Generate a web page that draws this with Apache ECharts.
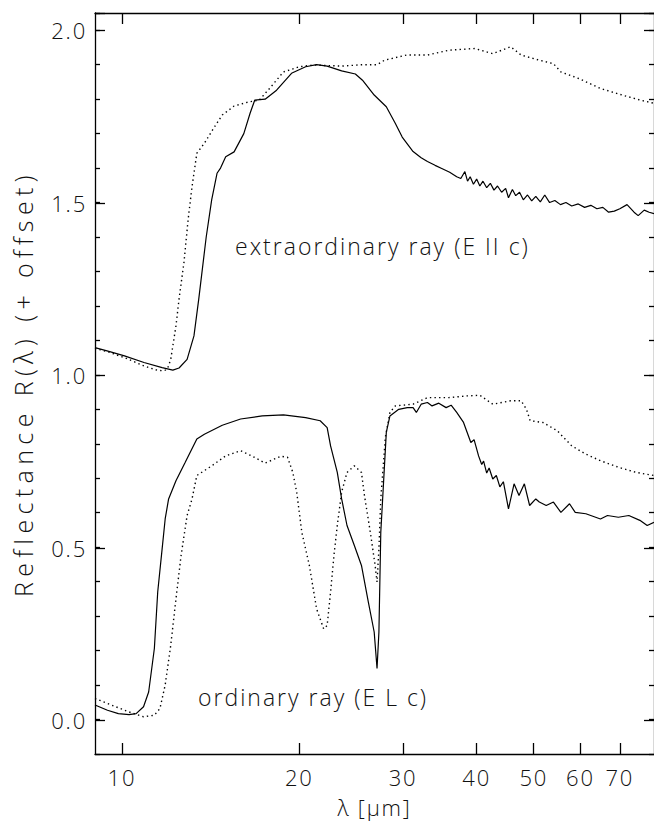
<!DOCTYPE html>
<html>
<head>
<meta charset="utf-8">
<script src="https://cdn.jsdelivr.net/npm/echarts@6/dist/echarts.min.js"></script>
<style>
  html, body { margin: 0; padding: 0; background: #fff; }
  #chart { width: 654px; height: 823px; }
  /* wide, airy lettering for the axis and annotation text */
  #chart text[style*="22px"] { letter-spacing: 1.8px; }
  #chart text[style*="23px"] { letter-spacing: 2px; }
  #chart text[style*="25px"] { letter-spacing: 5.4px; }
</style>
</head>
<body>
<div id="chart"></div>
<script>
// Wavelength ticks (µm) and reflectance ticks
const xTicks = [10, 20, 30, 40, 50, 60, 70];
const yMajorStep = 0.5;
const yMinorStep = 0.1;

// Extraordinary ray (E || c), offset by +1: measured (solid) and model (dotted)
const extSolid = [
  [9.0, 1.079], [9.5, 1.068], [10.1, 1.055], [10.9, 1.036], [11.7, 1.021], [12.2, 1.014],
  [12.5, 1.020], [12.9, 1.045], [13.25, 1.113], [13.5, 1.220], [13.9, 1.400], [14.2, 1.508],
  [14.5, 1.585], [14.7, 1.600], [15.0, 1.633], [15.5, 1.647], [16.1, 1.700], [16.5, 1.759],
  [16.8, 1.797], [17.5, 1.800], [18.3, 1.826], [19.4, 1.875], [20.5, 1.894], [21.4, 1.900],
  [22.3, 1.896], [23.6, 1.882], [24.9, 1.873], [25.6, 1.855], [26.8, 1.812], [28.1, 1.778],
  [29.1, 1.730], [29.9, 1.690], [31.2, 1.648], [32.2, 1.630], [33.0, 1.619], [34.0, 1.608],
  [34.9, 1.599], [36.0, 1.588], [37.0, 1.575], [37.6, 1.570], [38.2, 1.590], [38.6, 1.562],
  [39.0, 1.575], [39.5, 1.553], [40.0, 1.568], [40.5, 1.548], [41.0, 1.562], [41.6, 1.543],
  [42.2, 1.556], [42.8, 1.536], [43.4, 1.548], [44.1, 1.530], [44.8, 1.541], [45.3, 1.514],
  [46.0, 1.538], [46.6, 1.520], [47.3, 1.530], [48.0, 1.508], [48.8, 1.522], [49.6, 1.505],
  [50.4, 1.518], [51.3, 1.502], [52.2, 1.522], [53.2, 1.500], [54.3, 1.506], [55.5, 1.494],
  [56.7, 1.500], [58.0, 1.490], [59.5, 1.496], [61.0, 1.486], [62.5, 1.492], [64.0, 1.482],
  [65.5, 1.486], [67.0, 1.472], [68.5, 1.475], [70.0, 1.482], [72.0, 1.494], [74.0, 1.472],
  [75.2, 1.462], [77.0, 1.478], [78.5, 1.472], [80.0, 1.468]
];
const extDotted = [
  [9.0, 1.077], [9.5, 1.066], [10.1, 1.050], [10.9, 1.026], [11.5, 1.013], [11.8, 1.012],
  [11.95, 1.018], [12.1, 1.045], [12.35, 1.142], [12.5, 1.220], [12.75, 1.330], [12.95, 1.450],
  [13.15, 1.546], [13.4, 1.643], [13.8, 1.672], [14.3, 1.715], [14.8, 1.754], [15.5, 1.780],
  [16.4, 1.792], [17.1, 1.797], [17.8, 1.831], [18.8, 1.879], [20.0, 1.894], [21.1, 1.899],
  [23.6, 1.896], [25.6, 1.900], [27.1, 1.900], [27.9, 1.913], [30.4, 1.928], [33.0, 1.928],
  [35.9, 1.942], [39.7, 1.947], [42.6, 1.932], [45.7, 1.952], [47.6, 1.928], [51.1, 1.913],
  [54.0, 1.903], [55.6, 1.879], [59.6, 1.860], [64.9, 1.831], [70.6, 1.812], [75.9, 1.797],
  [80.0, 1.788]
];

// Ordinary ray (E ⊥ c): measured (solid) and model (dotted)
const ordSolid = [
  [9.0, 0.042], [9.45, 0.027], [9.86, 0.017], [10.28, 0.0145], [10.57, 0.017], [10.88, 0.037],
  [11.1, 0.080], [11.35, 0.206], [11.5, 0.370], [11.7, 0.495], [11.84, 0.582], [12.0, 0.640],
  [12.35, 0.693], [12.8, 0.746], [13.4, 0.814], [13.8, 0.828], [14.8, 0.854], [15.9, 0.872],
  [17.3, 0.881], [18.8, 0.884], [20.5, 0.876], [21.7, 0.867], [22.3, 0.847], [22.6, 0.794],
  [23.2, 0.717], [23.6, 0.640], [24.1, 0.563], [24.8, 0.505], [25.5, 0.447], [26.2, 0.340],
  [26.8, 0.254], [27.1, 0.148], [27.3, 0.254], [27.5, 0.543], [27.7, 0.640], [28.1, 0.833],
  [28.5, 0.881], [29.5, 0.900], [30.5, 0.905], [31.2, 0.905], [31.6, 0.891], [32.2, 0.915],
  [33.0, 0.920], [33.6, 0.910], [34.5, 0.918], [35.5, 0.905], [36.2, 0.912], [37.0, 0.891],
  [38.0, 0.862], [39.1, 0.804], [39.6, 0.812], [40.3, 0.765], [40.8, 0.740], [41.1, 0.750],
  [41.6, 0.715], [42.0, 0.730], [42.6, 0.698], [43.2, 0.708], [43.8, 0.675], [44.4, 0.690],
  [45.3, 0.611], [46.3, 0.684], [47.2, 0.650], [48.2, 0.684], [49.2, 0.621], [50.4, 0.640],
  [51.1, 0.631], [52.5, 0.621], [54.0, 0.631], [55.6, 0.601], [57.5, 0.626], [58.8, 0.601],
  [61.3, 0.597], [64.9, 0.582], [66.7, 0.592], [69.6, 0.587], [72.5, 0.592], [75.7, 0.578],
  [77.9, 0.563], [80.0, 0.572]
];
const ordDotted = [
  [9.0, 0.061], [9.6, 0.042], [10.28, 0.022], [10.88, 0.008], [11.35, 0.0125], [11.6, 0.032],
  [11.84, 0.100], [12.1, 0.215], [12.35, 0.350], [12.6, 0.476], [12.9, 0.592], [13.15, 0.640],
  [13.4, 0.708], [14.2, 0.736], [15.0, 0.765], [15.9, 0.780], [16.6, 0.765], [17.5, 0.744],
  [18.6, 0.764], [19.1, 0.761], [19.5, 0.717], [19.8, 0.659], [20.2, 0.543], [20.8, 0.447],
  [21.4, 0.321], [22.0, 0.263], [22.3, 0.273], [22.6, 0.370], [22.9, 0.476], [23.2, 0.563],
  [23.6, 0.660], [24.1, 0.717], [24.8, 0.736], [25.5, 0.717], [25.8, 0.650], [26.4, 0.543],
  [26.9, 0.447], [27.1, 0.399], [27.3, 0.495], [27.5, 0.640], [28.0, 0.820], [28.5, 0.891],
  [29.1, 0.910], [31.2, 0.915], [33.0, 0.934], [35.9, 0.934], [38.5, 0.939], [40.5, 0.941],
  [42.6, 0.915], [45.7, 0.925], [47.6, 0.925], [48.6, 0.900], [49.3, 0.867], [51.8, 0.862],
  [54.8, 0.838], [58.0, 0.794], [61.3, 0.770], [64.9, 0.751], [69.6, 0.732], [74.6, 0.717],
  [80.0, 0.708]
];

const FONT = "'Open Sans', 'DejaVu Sans', sans-serif";
const INK = '#000';
const tickText = { fontFamily: FONT, fontSize: 22, fontWeight: 300, color: '#111' };
const yNameText = { fontFamily: FONT, fontSize: 25, fontWeight: 300, color: '#111' };
const AXIS_LINE = { color: INK, width: 1.3 };

// Plot frame (px) and value ranges
const PLOT = { left: 95, right: 0, top: 13, bottom: 68 };
const CANVAS_H = 823;
const X_MIN = 9, X_MAX = 80;
const Y_MIN = -0.1, Y_MAX = 2.05;
const pxPerUnit = (CANVAS_H - PLOT.top - PLOT.bottom) / (Y_MAX - Y_MIN);
// The labelled reflectance scale starts at 0; its grid ends where 0 sits in the plot,
// so its values land on exactly the same pixels as the plot's own axis.
const labelGrid = {
  left: PLOT.left, right: PLOT.right, top: PLOT.top,
  bottom: PLOT.bottom + (0 - Y_MIN) * pxPerUnit
};
// Wavelength tick length, expressed in reflectance units for the frame edges
const X_TICK_LEN = 11 / pxPerUnit;

function frameX(pos, showLabels) {
  return {
    gridIndex: 0, type: 'log', logBase: 10, min: X_MIN, max: X_MAX, position: pos,
    name: showLabels ? 'λ [μm]' : '', nameLocation: 'middle', nameGap: 42,
    nameTextStyle: tickText,
    axisLine: { show: true, onZero: false, lineStyle: AXIS_LINE },
    axisTick: { show: false },
    axisLabel: { show: showLabels, customValues: xTicks, margin: 12, ...tickText },
    splitLine: { show: false }, minorTick: { show: false }
  };
}
function frameY(pos, showName) {
  return {
    gridIndex: 0, type: 'value', min: Y_MIN, max: Y_MAX, interval: yMinorStep, position: pos,
    name: showName ? 'Reflectance R(λ) (+ offset)' : '', nameLocation: 'middle', nameGap: 60,
    nameTextStyle: yNameText,
    axisLine: { show: true, onZero: false, lineStyle: AXIS_LINE },
    axisTick: { show: true, inside: true, length: 5, lineStyle: AXIS_LINE },
    axisLabel: { show: false },
    splitLine: { show: false }
  };
}
function labelY(pos, showLabels) {
  return {
    gridIndex: 1, type: 'value', min: 0, max: Y_MAX, interval: yMajorStep, position: pos,
    axisLine: { show: false, onZero: false },
    axisTick: { show: true, inside: true, length: 10, lineStyle: AXIS_LINE },
    axisLabel: {
      show: showLabels, margin: 8, showMinLabel: true,
      formatter: v => {
        const k = v / yMajorStep;
        return Math.abs(k - Math.round(k)) < 1e-6 ? v.toFixed(1) : '';
      },
      ...tickText
    },
    splitLine: { show: false }
  };
}

// Wavelength ticks along the bottom and top edges of the frame
const xTickSegments = [];
xTicks.forEach(v => {
  xTickSegments.push([{ coord: [v, Y_MIN] }, { coord: [v, Y_MIN + X_TICK_LEN] }]);
  xTickSegments.push([{ coord: [v, Y_MAX] }, { coord: [v, Y_MAX - X_TICK_LEN] }]);
});

function lineSeries(data, dotted, extra) {
  return Object.assign({
    type: 'line', data: data, xAxisIndex: 0, yAxisIndex: 0,
    showSymbol: false, symbol: 'none', smooth: false, silent: true,
    lineStyle: dotted
      ? { color: INK, width: 1.4, type: [1.4, 3.2] }
      : { color: INK, width: 1.2 }
  }, extra || {});
}

const chart = echarts.init(document.getElementById('chart'), null, { renderer: 'svg' });
chart.setOption({
  animation: false,
  backgroundColor: '#fff',
  grid: [
    Object.assign({ containLabel: false }, PLOT),
    Object.assign({ containLabel: false }, labelGrid)
  ],
  xAxis: [
    frameX('bottom', true), frameX('top', false),
    { gridIndex: 1, type: 'value', show: false }
  ],
  yAxis: [
    frameY('left', true), frameY('right', false),
    labelY('left', true), labelY('right', false)
  ],
  series: [
    lineSeries(extSolid, false, {
      markLine: {
        silent: true, animation: false, symbol: ['none', 'none'],
        label: { show: false },
        lineStyle: { color: INK, width: 1.3, type: 'solid' },
        emphasis: { disabled: true },
        data: xTickSegments
      }
    }),
    lineSeries(extDotted, true),
    lineSeries(ordSolid, false),
    lineSeries(ordDotted, true)
  ],
  graphic: [
    { type: 'text', left: 235, top: 234, silent: true,
      style: { text: 'extraordinary ray (E II c)', fontFamily: FONT, fontSize: 23, fontWeight: 300, fill: '#111' } },
    { type: 'text', left: 198, top: 685, silent: true,
      style: { text: 'ordinary ray (E L c)', fontFamily: FONT, fontSize: 23, fontWeight: 300, fill: '#111' } }
  ]
});
</script>
</body>
</html>
